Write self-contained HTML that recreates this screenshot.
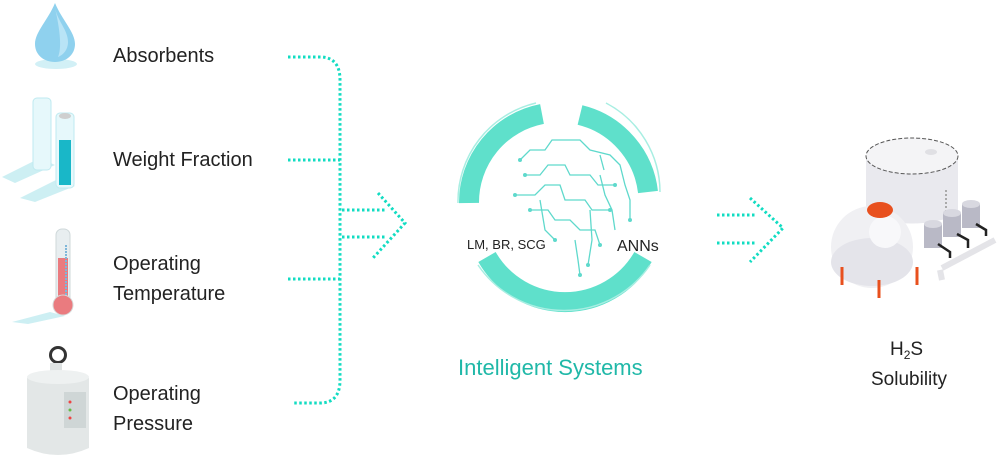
<!DOCTYPE html>
<html><head><meta charset="utf-8"><style>
html,body{margin:0;padding:0;background:#fff}
svg{display:block}
text{font-family:"Liberation Sans",sans-serif}
</style></head><body>
<svg width="1000" height="458" viewBox="0 0 1000 458" xmlns="http://www.w3.org/2000/svg">
<!-- drop -->
<ellipse cx="56" cy="64" rx="21" ry="5" fill="#d2f0f6"/>
<path d="M55 3 C48 20 35 32 35 44 C35 55 44 62 55 62 C66 62 75 55 75 44 C75 32 62 20 55 3Z" fill="#8fd1ee"/>
<path d="M55 8 C58 22 68 30 68 42 C68 50 63 55 58 57 C62 48 60 30 55 8Z" fill="#b9e4f6"/>
<!-- cylinders -->
<polygon points="2,177 40,158 55,165 15,183" fill="#cdeff3"/>
<polygon points="20,198 60,178 75,186 35,202" fill="#cdeff3"/>
<rect x="33" y="98" width="18" height="72" rx="4" fill="#e6f8fb" stroke="#bfeaf0"/>
<rect x="56" y="113" width="18" height="75" rx="4" fill="#e6f8fb" stroke="#bfeaf0"/>
<rect x="59" y="140" width="12" height="45" fill="#19b7c8"/>
<ellipse cx="65" cy="116" rx="6" ry="3" fill="#cfcfcf"/>
<!-- thermometer -->
<polygon points="12,322 50,312 65,316 28,324" fill="#cdeff3"/>
<rect x="56" y="229" width="14" height="80" rx="6" fill="#e8eef0" stroke="#cfd8da"/>
<rect x="58" y="258" width="10" height="45" fill="#ea7b7f"/>
<line x1="66" y1="245" x2="66" y2="300" stroke="#7fb7d9" stroke-width="2" stroke-dasharray="2,1"/>
<circle cx="63" cy="305" r="10" fill="#ea7b7f" stroke="#d7d7d7"/>
<!-- pressure vessel -->
<circle cx="58" cy="355" r="9" fill="#333"/><circle cx="58" cy="355" r="6" fill="#fff"/>
<rect x="50" y="363" width="12" height="12" fill="#dfe3e3"/>
<path d="M27 378 Q58 365 89 378 L89 448 Q58 462 27 448Z" fill="#e3e7e7"/>
<ellipse cx="58" cy="377" rx="31" ry="7" fill="#eef1f1"/>
<rect x="64" y="392" width="22" height="36" fill="#cfd6d6"/>
<circle cx="70" cy="402" r="1.5" fill="#e44"/><circle cx="70" cy="410" r="1.5" fill="#6b4"/><circle cx="70" cy="418" r="1.5" fill="#e44"/>
<!-- labels -->
<g font-size="20" fill="#222">
<text x="113" y="62">Absorbents</text>
<text x="113" y="166">Weight Fraction</text>
<text x="113" y="270">Operating</text>
<text x="113" y="300">Temperature</text>
<text x="113" y="400">Operating</text>
<text x="113" y="430">Pressure</text>
</g>
<!-- connectors -->
<g fill="none" stroke="#12dcc2" stroke-width="3" stroke-dasharray="2.5,2.5">
<path d="M288 57 H320 Q340 57 340 80 V380 Q340 403 320 403 H292"/>
<path d="M288 160 H340"/>
<path d="M288 279 H340"/>
<path d="M342 210 H385"/>
<path d="M342 237 H385"/>
<path d="M378 193 L405 223 L373 258"/>
<path d="M717 215 H755"/>
<path d="M717 243 H755"/>
<path d="M750 198 L783 228 L750 262"/>
</g>
<!-- ring -->
<g fill="none" stroke="#5fe0cb" stroke-width="20">
<path d="M 469 203 A 90 90 0 0 1 542 114"/>
<path d="M 580 115 A 90 90 0 0 1 648 192"/>
<path d="M 643 257 A 90 90 0 0 1 487 257"/>
</g>
<g fill="none" stroke="#a8eee2" stroke-width="1.5">
<path d="M 458 203 A 101 101 0 0 1 536 103"/>
<path d="M 606 103 A 101 101 0 0 1 660 192"/>
<path d="M 650 265 A 104 104 0 0 1 478 265"/>
</g>
<!-- brain circuit -->
<g fill="none" stroke="#5fd9cc" stroke-width="1.3">
<path d="M520 160 L530 150 L545 150 L552 140 L580 140 L590 150 L610 155 L620 165 L625 185 L630 200 L630 220"/>
<path d="M525 175 L540 175 L548 165 L565 165 L570 175 L590 175 L598 185 L615 185"/>
<path d="M515 195 L535 195 L545 185 L560 185 L565 200 L585 200 L592 210 L610 210"/>
<path d="M530 210 L548 210 L555 220 L570 220 L580 230 L595 230 L600 245"/>
<path d="M575 240 L578 260 L580 275"/>
<path d="M590 210 L592 240 L588 265"/>
<path d="M600 175 L605 195 L612 210 L615 230"/>
<path d="M540 200 L545 230 L555 240"/>
<path d="M600 155 L604 170"/>
</g>
<g fill="#5fd9cc">
<circle cx="520" cy="160" r="2"/><circle cx="525" cy="175" r="2"/><circle cx="515" cy="195" r="2"/><circle cx="530" cy="210" r="2"/><circle cx="610" cy="210" r="2"/><circle cx="615" cy="185" r="2"/><circle cx="580" cy="275" r="2"/><circle cx="588" cy="265" r="2"/><circle cx="630" cy="220" r="2"/><circle cx="600" cy="245" r="2"/><circle cx="555" cy="240" r="2"/>
</g>
<text x="467" y="249" font-size="13" fill="#222">LM, BR, SCG</text>
<text x="617" y="251" font-size="16" fill="#222">ANNs</text>
<text x="458" y="375" font-size="22" fill="#20b8a8">Intelligent Systems</text>
<!-- plant -->
<path d="M866 156 V215 Q912 232 958 215 V156Z" fill="#e9e9ee"/>
<ellipse cx="912" cy="156" rx="46" ry="18" fill="#f4f4f6" stroke="#555" stroke-width="1" stroke-dasharray="4,2"/>
<ellipse cx="931" cy="152" rx="6" ry="3" fill="#e0e0e4"/>
<line x1="946" y1="190" x2="946" y2="230" stroke="#aaa" stroke-width="2" stroke-dasharray="2,2"/>
<!-- pipes -->
<path d="M942 268 L995 240 M940 270 L942 280" stroke="#e4e4e8" stroke-width="6" fill="none"/>
<!-- small tanks -->
<g fill="#b9b9c6">
<rect x="924" y="224" width="18" height="24"/><ellipse cx="933" cy="224" rx="9" ry="4" fill="#d8d8e0"/>
<rect x="943" y="213" width="18" height="24"/><ellipse cx="952" cy="213" rx="9" ry="4" fill="#d8d8e0"/>
<rect x="962" y="204" width="18" height="24"/><ellipse cx="971" cy="204" rx="9" ry="4" fill="#d8d8e0"/>
</g>
<g stroke="#222" stroke-width="2.5" fill="none"><path d="M938 244 L950 252 V258"/><path d="M957 234 L968 240 V248"/><path d="M976 224 L986 230 V236"/></g>
<!-- sphere -->
<circle cx="872" cy="247" r="41" fill="#f0f0f3"/>
<ellipse cx="872" cy="262" rx="41" ry="24" fill="#e4e4ea"/>
<circle cx="885" cy="232" r="16" fill="#f8f8fa"/>
<ellipse cx="880" cy="210" rx="13" ry="8" fill="#e8501e"/>
<g stroke="#e8501e" stroke-width="3"><line x1="842" y1="267" x2="842" y2="285"/><line x1="879" y1="280" x2="879" y2="298"/><line x1="917" y1="267" x2="917" y2="285"/></g>
<text x="890" y="355" font-size="19" fill="#222">H<tspan font-size="12" dy="4">2</tspan><tspan dy="-4">S</tspan></text>
<text x="871" y="385" font-size="19" fill="#222">Solubility</text>
</svg>
</body></html>
